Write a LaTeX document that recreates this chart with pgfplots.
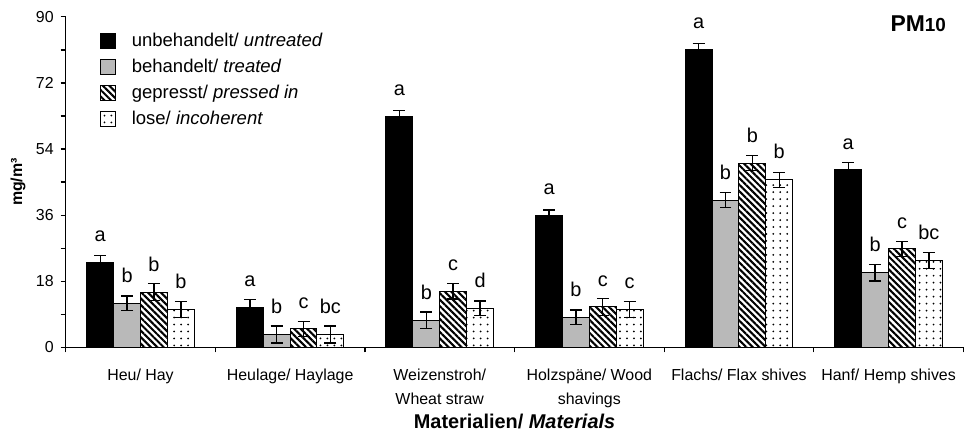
\documentclass[border=0pt]{standalone}
\usepackage{pgfplots}
\pgfplotsset{compat=1.18}
\usepackage{pgfplotstable}
\usetikzlibrary{patterns.meta}
\usepackage{fontspec}
\setmainfont{Liberation Sans}
\definecolor{lgray}{RGB}{185,185,185}

% PM10 per material: value, error, letter (u=untreated, t=treated, p=pressed, l=loose)
\pgfplotstableread{
x  u    ue   t    te   p    pe   l    le   lu lt lp ll
0  23.0 2.0  12.0 2.0  15.0 2.3  10.3 2.2  a  b  b  b
1  10.8 2.2  3.5  2.3  5.0  2.0  3.5  2.3  a  b  c  bc
2  62.8 1.7  7.4  2.2  15.3 2.1  10.6 2.0  a  b  c  d
3  35.9 1.5  8.2  2.0  11.0 2.3  10.3 2.2  a  b  c  c
4  81.1 1.7  40.1 2.1  50.2 2.1  45.6 2.0  a  b  b  b
5  48.3 2.0  20.3 2.2  26.8 2.0  23.6 2.2  a  b  c  bc
}\data

\begin{document}
\begin{tikzpicture}
\begin{axis}[
    scale only axis, width=451pt, height=166pt,
    clip=false,
    ybar=0pt, bar width=13.5pt,
    xmin=-0.5, xmax=5.5, ymin=0, ymax=90,
    axis x line*=bottom, axis y line*=left,
    axis line style={line width=0.75pt},
    tick align=outside,
    major tick length=2.5pt, minor tick length=2.5pt,
    tick style={black, line width=0.6pt},
    ytick={0,18,36,54,72,90}, minor ytick={9,27,45,63,81},
    xtick={-0.5,0.5,1.5,2.5,3.5,4.5,5.5}, xticklabels={},
    extra x ticks={0,1,2,3,4,5},
    extra x tick labels={Heu/ Hay, Heulage/ Haylage, Weizenstroh/\\Wheat straw,
        Holzspäne/ Wood\\shavings, Flachs/ Flax shives, Hanf/ Hemp shives},
    extra x tick style={major tick length=0pt,
        xticklabel style={font=\fontsize{8}{12}\selectfont, align=center, yshift=-7.5pt}},
    /pgf/number format/assume math mode=true,
    yticklabel style={font=\fontsize{8}{9}\selectfont},
    ylabel={mg/m³},
    ylabel style={font=\bfseries\fontsize{8}{9}\selectfont,
        at={(axis description cs:-0.0532,0.5)}, anchor=center},
    xlabel={Materialien/ \textbf{\textit{Materials}}},
    xlabel style={font=\bfseries\fontsize{10}{11}\selectfont,
        at={(axis description cs:0.5,0)}, anchor=center, yshift=-37.5pt},
    error bars/y dir=both, error bars/y explicit,
    error bars/error bar style={black, line width=0.7pt},
    error bars/error mark options={rotate=90, mark size=3pt, black, line width=0.7pt},
    point meta=explicit symbolic,
    nodes near coords={\pgfplotspointmeta},
    every node near coord/.append style={font=\fontsize{10}{11}\selectfont,
        anchor=base, yshift=10.5pt, inner sep=0pt, black},
    legend image code/.code={
        \draw[#1, line width=0.5pt] (0pt,-3.75pt) rectangle (7.5pt,3.75pt);},
    legend cell align=left,
    legend style={draw=none, fill=none, at={(rel axis cs:0.0377,0.965)},
        anchor=north west, inner sep=0pt, row sep=0.8pt,
        font=\fontsize{9.3}{13}\selectfont,
        /tikz/every odd column/.append style={column sep=6pt}},
]
\addplot[draw=black, fill=black, line width=0.5pt]
    table[x=x, y=u, y error=ue, meta=lu] {\data};
\addplot[draw=black, fill=lgray, line width=0.5pt]
    table[x=x, y=t, y error=te, meta=lt] {\data};
\addplot[draw=black, pattern={Lines[angle=-45, distance=2.3pt, line width=1.05pt]}, line width=0.5pt]
    table[x=x, y=p, y error=pe, meta=lp] {\data};
\addplot[draw=black, pattern={Dots[distance=3.5pt, radius=0.5pt]}, line width=0.5pt]
    table[x=x, y=l, y error=le, meta=ll] {\data};
\legend{unbehandelt/ \textit{untreated}, behandelt/ \textit{treated},
    gepresst/ \textit{pressed in}, lose/ \textit{incoherent}}
\node[anchor=north east, inner sep=0pt, font=\bfseries\fontsize{11.5}{12}\selectfont]
    at (rel axis cs:0.981,1.006) {PM{\fontsize{9.5}{10}\selectfont 10}};
\path (rel axis cs:-0.0732,-0.25) rectangle (rel axis cs:1.0022,1.0512);
\end{axis}
\end{tikzpicture}
\end{document}
